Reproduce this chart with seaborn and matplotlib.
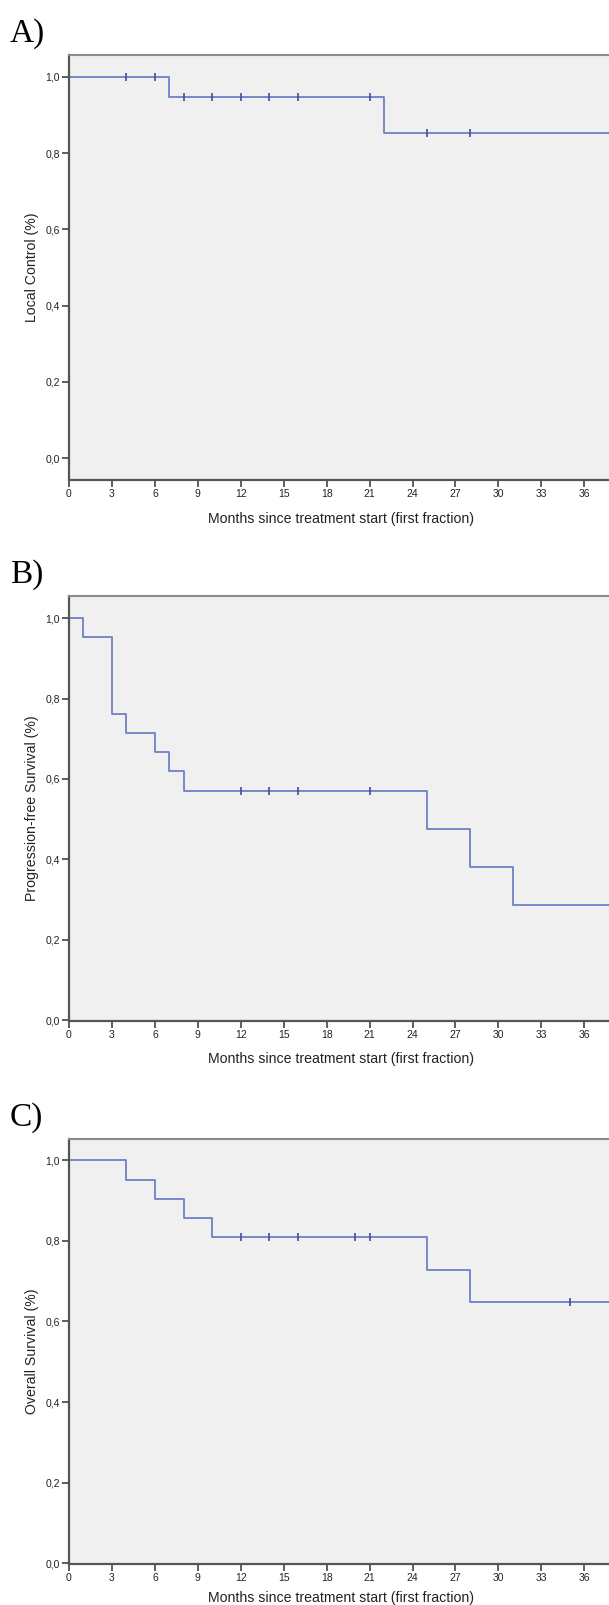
import numpy as np
import pandas as pd
import matplotlib
matplotlib.use("Agg")
import matplotlib.pyplot as plt
import seaborn as sns

# ---- data (months, survival fraction) ----
months_ticks = list(range(0, 37, 3))
y_ticks = [0.0, 0.2, 0.4, 0.6, 0.8, 1.0]
y_tick_labels = ["0,0", "0,2", "0,4", "0,6", "0,8", "1,0"]
follow_up_end = 40  # curves run past the cropped right edge

# A) Local control
lc_times = [0, 7, 22]
lc_surv = [1.0, 0.947, 0.852]
lc_censored = [4, 6, 8, 10, 12, 14, 16, 21, 25, 28]

# B) Progression-free survival
pfs_times = [0, 1, 3, 4, 6, 7, 8, 25, 28, 31]
pfs_surv = [1.0, 0.952, 0.762, 0.714, 0.667, 0.619, 0.571, 0.476, 0.381, 0.286]
pfs_censored = [12, 14, 16, 21]

# C) Overall survival
os_times = [0, 4, 6, 8, 10, 25, 28]
os_surv = [1.0, 0.952, 0.905, 0.857, 0.810, 0.729, 0.648]
os_censored = [12, 14, 16, 20, 21, 35]

W, H = 609, 1605
LINE_COLOR = "#6e80c8"
CENSOR_COLOR = "#3f50a4"
BG = "#f0f0f0"

sns.set_theme(style="ticks")
plt.rcParams["font.family"] = ["Liberation Sans", "DejaVu Sans"]

fig = plt.figure(figsize=(W / 100, H / 100), dpi=100)


def km_frame(times, surv, end):
    t = list(times) + [end]
    s = list(surv) + [surv[-1]]
    return pd.DataFrame({"month": t, "surv": s})


def censor_frame(times, surv, cens):
    idx = np.searchsorted(np.array(times), np.array(cens), side="right") - 1
    return pd.DataFrame({"month": cens, "surv": np.array(surv)[idx]})


panels = [
    # label, top px, bottom px, ylim, ylabel, data, labelpad
    ("A)", 55, 480, (-0.057, 1.057), "Local Control (%)",
     lc_times, lc_surv, lc_censored, 9.5),
    ("B)", 596, 1021, (-0.002, 1.055), "Progression-free Survival (%)",
     pfs_times, pfs_surv, pfs_censored, 8.5),
    ("C)", 1139, 1564, (-0.002, 1.053), "Overall Survival (%)",
     os_times, os_surv, os_censored, 6),
]

px_per_month = (584.3 - 69) / 36
x_max = 38
ax_left = 69
ax_width = x_max * px_per_month

for label, top, bottom, ylim, ylabel, times, surv, cens, lpad in panels:
    ax = fig.add_axes([ax_left / W, 1 - bottom / H, ax_width / W, (bottom - top) / H])
    ax.set_facecolor(BG)

    sns.lineplot(data=km_frame(times, surv, follow_up_end), x="month", y="surv",
                 ax=ax, color=LINE_COLOR, lw=1.3, drawstyle="steps-post",
                 estimator=None, sort=False)
    sns.scatterplot(data=censor_frame(times, surv, cens), x="month", y="surv",
                    ax=ax, marker="|", s=28, linewidth=1.2, color=CENSOR_COLOR,
                    zorder=3)

    ax.set_xlim(0, x_max)
    ax.set_ylim(*ylim)
    ax.set_xticks(months_ticks)
    ax.set_xticklabels([str(m) for m in months_ticks])
    ax.set_yticks(y_ticks)
    ax.set_yticklabels(y_tick_labels)
    ax.tick_params(axis="both", labelsize=7.5, length=5, width=1.1,
                   color="#333333", labelcolor="#222222", pad=1.5)

    for side in ["left", "bottom"]:
        ax.spines[side].set_color("#555555")
        ax.spines[side].set_linewidth(1.6)
    ax.spines["top"].set_color("#8a8a8a")
    ax.spines["top"].set_linewidth(1.5)
    ax.spines["right"].set_visible(False)

    ax.set_xlabel("Months since treatment start (first fraction)",
                  fontsize=10.2, color="#222222", labelpad=lpad)
    ax.set_ylabel(ylabel, fontsize=10.2, color="#222222", labelpad=5)

    fig.text(10 / W, 1 - (top - 13) / H, label, fontsize=24,
             family=["Liberation Serif", "DejaVu Serif"], va="baseline",
             ha="left", color="black")

fig.savefig("out.png", dpi=100, facecolor="white")
